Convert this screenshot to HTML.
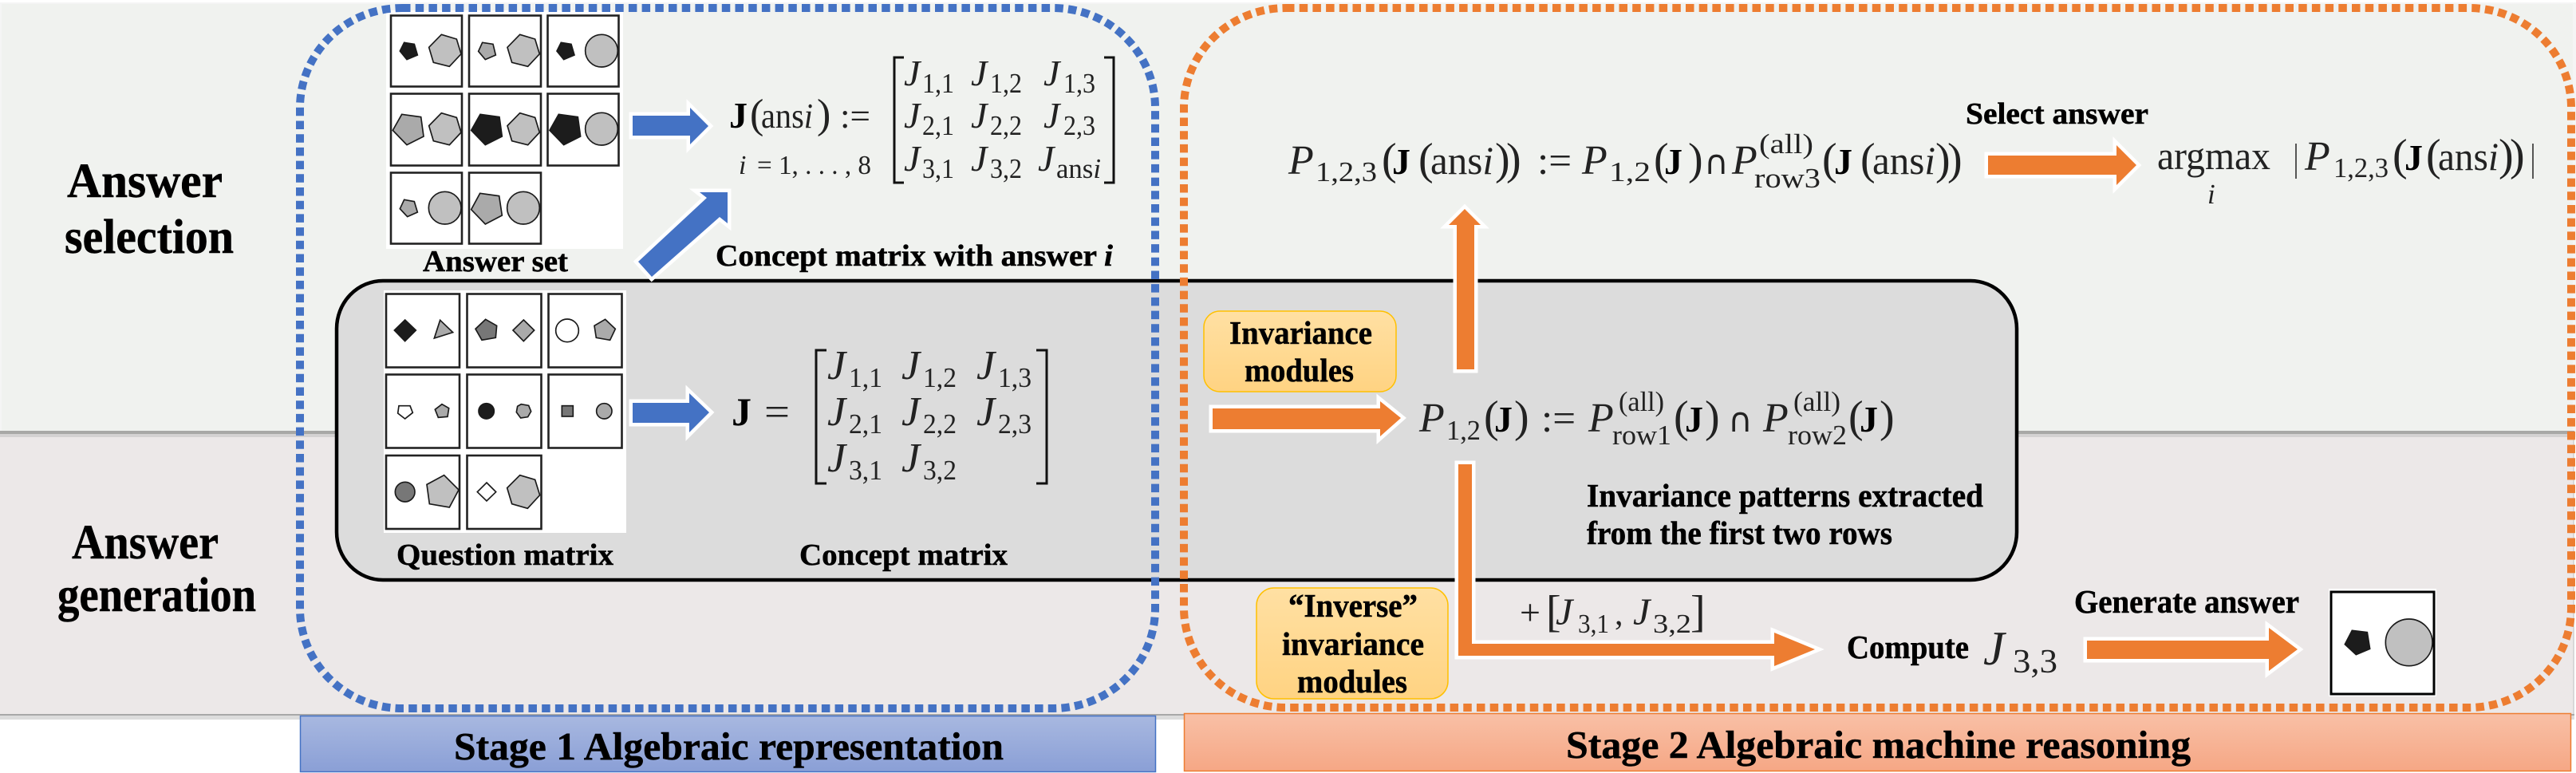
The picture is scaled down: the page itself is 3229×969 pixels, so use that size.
<!DOCTYPE html>
<html><head><meta charset="utf-8">
<style>
html,body{margin:0;padding:0;background:#fff}
svg{display:block}
text{font-family:"Liberation Serif",serif;fill:#000}
.b{font-weight:bold;stroke:#000;stroke-width:.5}
.i{font-style:italic}
.a{paint-order:stroke;stroke:#fff;stroke-width:9;stroke-linejoin:miter;stroke-miterlimit:12}
.bl{fill:#4472c4}
.or{fill:#ed7d31}
.c{fill:#fff;stroke:#222;stroke-width:2.6}
.s polygon,.s circle,.s rect{stroke:#1a1a1a;stroke-width:5}
.d{fill:#1c1c1c}.m{fill:#777}.h{fill:#aaa}.l{fill:#c0c0c0}.w{fill:#fff}
.p{font-size:56px;fill:#222}
.n{font-size:50px;fill:#222}
.j{font-size:50px;font-weight:bold}
.q{font-size:52px;font-style:italic;fill:#222}
.t{font-size:35px;fill:#222}
.u{font-size:38px;font-weight:bold;stroke:#000;stroke-width:.5}
.v{font-size:41px;font-weight:bold;stroke:#000;stroke-width:.5}
.cap{font-family:"DejaVu Sans",sans-serif;font-size:42px;fill:#222}
</style></head>
<body>
<svg width="3229" height="969" viewBox="0 0 3229 969" xmlns="http://www.w3.org/2000/svg">
<defs>
<linearGradient id="y" x1="0" y1="0" x2="0" y2="1"><stop offset="0" stop-color="#ffe0a3"/><stop offset="1" stop-color="#ffd382"/></linearGradient>
<linearGradient id="s1" x1="0" y1="0" x2="0" y2="1"><stop offset="0" stop-color="#a8b8e0"/><stop offset="1" stop-color="#8a9fd6"/></linearGradient>
<linearGradient id="s2" x1="0" y1="0" x2="0" y2="1"><stop offset="0" stop-color="#f8c0a6"/><stop offset="1" stop-color="#f6a785"/></linearGradient>
</defs>

<!-- bands -->
<rect x="0" y="3" width="3229" height="545" fill="#f5f5f5"/>
<rect x="2" y="5" width="3223" height="535" fill="#f0f2ef"/>
<rect x="0" y="540" width="3227" height="4" fill="#a8a8a6"/>
<rect x="0" y="544" width="3227" height="4" fill="#d4d2d2"/>
<rect x="0" y="548" width="3225" height="347" fill="#ece8e8"/>
<rect x="3225" y="548" width="2" height="347" fill="#d8d8d8"/>
<rect x="0" y="895" width="3227" height="2" fill="#a8a8a8"/>
<rect x="0" y="897" width="3227" height="5" fill="#dcdcdc"/>

<!-- stage boxes -->
<rect x="376.5" y="897.5" width="1072" height="70" fill="url(#s1)" stroke="#4472c4" stroke-width="1.5"/>
<rect x="1484.5" y="894.5" width="1738" height="72" fill="url(#s2)" stroke="#ed7d31" stroke-width="1.5"/>
<text class="b" x="569" y="952" font-size="49" textLength="689" lengthAdjust="spacingAndGlyphs">Stage 1 Algebraic representation</text>
<text class="b" x="1963" y="950" font-size="49" textLength="783" lengthAdjust="spacingAndGlyphs">Stage 2 Algebraic machine reasoning</text>

<!-- black rounded box -->
<rect x="422" y="352" width="2106" height="375" rx="58" ry="60" fill="#dcdcdc" stroke="#000" stroke-width="4.5"/>

<!-- answer-set panel -->
<rect x="484" y="13" width="297" height="299" fill="#fff"/>
<g>
<rect class="c" x="490" y="19.5" width="89" height="89"/><rect class="c" x="588" y="19.5" width="90" height="89"/><rect class="c" x="686.5" y="19.5" width="89" height="89"/>
<rect class="c" x="490" y="117.5" width="89" height="90"/><rect class="c" x="588" y="117.5" width="90" height="90"/><rect class="c" x="686.5" y="117.5" width="89" height="90"/>
<rect class="c" x="490" y="216.5" width="89" height="89"/><rect class="c" x="588" y="216.5" width="90" height="89"/>
</g>
<g class="s" transform="translate(460,0) scale(.33333)">
<polygon class="d" points="140,160 178,166 190,207 150,224 124,192"/>
<polygon class="l" points="280,130 337,147 354,203 310,250 250,235 233,178"/>
<polygon class="h" points="434,160 474,166 484,207 445,224 419,193"/>
<polygon class="l" points="575,130 632,147 649,203 605,250 545,235 528,178"/>
<polygon class="d" points="730,160 768,166 780,207 740,224 714,192"/>
<circle class="l" cx="882" cy="191" r="61"/>
<polygon class="h" points="131,430 203,440 213,513 150,545 97,490"/>
<polygon class="l" points="280,425 337,442 354,498 310,545 250,530 233,473"/>
<polygon class="d" points="426,430 498,440 508,513 445,545 392,490"/>
<polygon class="l" points="575,425 632,442 649,498 605,545 545,530 528,473"/>
<polygon class="d" points="721,430 793,440 803,513 740,545 687,490"/>
<circle class="l" cx="882" cy="485" r="61"/>
<polygon class="h" points="140,751 178,758 190,798 152,815 124,785"/>
<circle class="l" cx="293" cy="782" r="61"/>
<polygon class="h" points="425,727 497,737 508,810 445,843 392,788"/>
<circle class="l" cx="588" cy="782" r="61"/>
</g>

<!-- question panel -->
<rect x="481" y="364" width="304" height="304" fill="#fff"/>
<g>
<rect class="c" x="484" y="368.5" width="92" height="92"/><rect class="c" x="585.5" y="368.5" width="93" height="92"/><rect class="c" x="687.5" y="368.5" width="92" height="92"/>
<rect class="c" x="484" y="469.5" width="92" height="92"/><rect class="c" x="585.5" y="469.5" width="93" height="92"/><rect class="c" x="687.5" y="469.5" width="92" height="92"/>
<rect class="c" x="484" y="571" width="92" height="92"/><rect class="c" x="585.5" y="571" width="93" height="92"/>
</g>
<g class="s" transform="translate(460,360) scale(.33333)">
<polygon class="d" points="143,123 184,162 143,203 103,162"/>
<polygon class="h" points="275,124 323,170 253,192"/>
<polygon class="m" points="446,121 488,145 484,190 432,199 408,157"/>
<polygon class="h" points="589,123 629,162 589,203 549,162"/>
<circle class="w" cx="753" cy="163" r="43"/>
<polygon class="h" points="896,121 934,157 914,199 862,190 855,145"/>
<polygon class="w" points="120,446 162,446 172,472 143,495 116,474"/>
<polygon class="h" points="282,440 308,455 303,487 268,490 256,460"/>
<circle class="d" cx="449" cy="466" r="29"/>
<polygon class="h" points="580,440 608,445 617,467 605,488 578,492 562,470 566,448"/>
<rect class="m" x="733" y="446" width="42" height="40"/>
<circle class="h" cx="892" cy="466" r="29"/>
<circle class="m" cx="143" cy="770" r="37"/>
<polygon class="l" points="290,707 345,762 310,828 235,815 225,742"/>
<polygon class="w" points="450,735 485,770 450,804 415,770"/>
<polygon class="l" points="575,707 632,724 650,782 604,832 545,815 527,755"/>
</g>

<!-- dotted containers -->
<rect x="376" y="10" width="1072" height="878" rx="128" ry="125" fill="none" stroke="#4472c4" stroke-width="10" stroke-dasharray="10.5 6.2"/>
<rect x="1484" y="10" width="1739" height="877" rx="128" ry="125" fill="none" stroke="#ed7d31" stroke-width="10" stroke-dasharray="10.5 6.2"/>

<!-- blue arrows -->
<polygon class="a bl" points="793,145 865,145 865,135 888,158 865,181 865,170 793,170"/>
<polygon class="a bl" points="793,505 864,505 864,493 889,517 864,542 864,530 793,530"/>
<polygon class="a bl" points="800,328 886,248 877,241 912,241 912,280 902,272 817,347"/>

<!-- yellow boxes -->
<rect x="1509" y="390" width="241" height="101" rx="20" fill="url(#y)" stroke="#ffc000" stroke-width="1.5"/>
<rect x="1575" y="737" width="240" height="139" rx="22" fill="url(#y)" stroke="#ffc000" stroke-width="1.5"/>

<!-- orange arrows -->
<polygon class="a or" points="2492,195 2653,195 2653,182 2678,207 2653,232 2653,219 2492,219"/>
<polygon class="a or" points="1826,463 1826,282 1816,282 1836,262 1856,282 1848,282 1848,463"/>
<polygon class="a or" points="1520,512 1730,512 1730,503 1756,524 1730,547 1730,538 1520,538"/>
<polygon class="a or" points="1828,582 1845,582 1845,807 2224,807 2224,793 2275,814 2224,835 2224,822 1828,822"/>
<polygon class="a or" points="2616,803 2844,803 2844,787 2880,814 2844,841 2844,826 2616,826"/>

<!-- output cell -->
<rect x="2919" y="738" width="135" height="135" fill="#fff"/>
<rect x="2922" y="742" width="129" height="128" fill="#fff" stroke="#000" stroke-width="3"/>
<g class="s" transform="translate(2880,730) scale(.33333)">
<polygon class="d" points="205,181 262,188 272,250 220,272 178,233"/>
<circle class="l" cx="419" cy="226" r="88"/>
</g>

<!-- left labels -->
<text class="b" x="84" y="247" font-size="61" textLength="195" lengthAdjust="spacingAndGlyphs">Answer</text>
<text class="b" x="81" y="317" font-size="61" textLength="212" lengthAdjust="spacingAndGlyphs">selection</text>
<text class="b" x="90" y="700" font-size="61" textLength="184" lengthAdjust="spacingAndGlyphs">Answer</text>
<text class="b" x="72" y="766" font-size="61" textLength="249" lengthAdjust="spacingAndGlyphs">generation</text>

<!-- bold labels -->
<text class="u" x="530" y="340" textLength="182" lengthAdjust="spacingAndGlyphs">Answer set</text>
<text class="u" x="897" y="333" textLength="498" lengthAdjust="spacingAndGlyphs">Concept matrix with answer <tspan font-style="italic">i</tspan></text>
<text class="u" x="497" y="708" textLength="272" lengthAdjust="spacingAndGlyphs">Question matrix</text>
<text class="u" x="1002" y="708" textLength="261" lengthAdjust="spacingAndGlyphs">Concept matrix</text>
<text class="u" x="2464" y="155" textLength="229" lengthAdjust="spacingAndGlyphs">Select answer</text>
<text class="v" x="1541" y="431" textLength="179" lengthAdjust="spacingAndGlyphs">Invariance</text>
<text class="v" x="1560" y="478" textLength="137" lengthAdjust="spacingAndGlyphs">modules</text>
<text class="v" x="1615" y="773" textLength="162" lengthAdjust="spacingAndGlyphs">“Inverse”</text>
<text class="v" x="1607" y="821" textLength="178" lengthAdjust="spacingAndGlyphs">invariance</text>
<text class="v" x="1626" y="868" textLength="138" lengthAdjust="spacingAndGlyphs">modules</text>
<text class="v" x="1989" y="635" textLength="497" lengthAdjust="spacingAndGlyphs">Invariance patterns extracted</text>
<text class="v" x="1989" y="682" textLength="383" lengthAdjust="spacingAndGlyphs">from the first two rows</text>
<text class="v" x="2315" y="825" textLength="153" lengthAdjust="spacingAndGlyphs">Compute</text>
<text class="v" x="2600" y="768" textLength="282" lengthAdjust="spacingAndGlyphs">Generate answer</text>

<!-- J(ans i) definition -->
<text class="j" x="914" y="160" style="font-size:46px">J</text>
<text class="p" x="940" y="160" style="font-size:52px">(</text>
<text class="n" x="954" y="160" textLength="65" lengthAdjust="spacingAndGlyphs" style="font-size:44px">ans<tspan font-style="italic">i</tspan></text>
<text class="p" x="1024" y="160" style="font-size:52px">)</text>
<text class="n" x="1053" y="160" textLength="38" lengthAdjust="spacingAndGlyphs" style="font-size:44px">:=</text>
<text class="t" x="926" y="218" font-style="italic" style="font-size:34px">i</text>
<text class="t" x="949" y="218" textLength="143" lengthAdjust="spacingAndGlyphs" style="font-size:34px">= 1, . . . , 8</text>
<path d="M1133 72H1121V229H1133M1384 72H1396V229H1384" fill="none" stroke="#111" stroke-width="3"/>
<g>
<text class="q" x="1133" y="107" style="font-size:46px">J</text><text class="t" x="1156" y="116" textLength="40" lengthAdjust="spacingAndGlyphs">1,1</text>
<text class="q" x="1217" y="107" style="font-size:46px">J</text><text class="t" x="1241" y="116" textLength="40" lengthAdjust="spacingAndGlyphs">1,2</text>
<text class="q" x="1308" y="107" style="font-size:46px">J</text><text class="t" x="1333" y="116" textLength="40" lengthAdjust="spacingAndGlyphs">1,3</text>
<text class="q" x="1133" y="160" style="font-size:46px">J</text><text class="t" x="1156" y="169" textLength="40" lengthAdjust="spacingAndGlyphs">2,1</text>
<text class="q" x="1217" y="160" style="font-size:46px">J</text><text class="t" x="1241" y="169" textLength="40" lengthAdjust="spacingAndGlyphs">2,2</text>
<text class="q" x="1308" y="160" style="font-size:46px">J</text><text class="t" x="1333" y="169" textLength="40" lengthAdjust="spacingAndGlyphs">2,3</text>
<text class="q" x="1133" y="214" style="font-size:46px">J</text><text class="t" x="1156" y="223" textLength="40" lengthAdjust="spacingAndGlyphs">3,1</text>
<text class="q" x="1217" y="214" style="font-size:46px">J</text><text class="t" x="1241" y="223" textLength="40" lengthAdjust="spacingAndGlyphs">3,2</text>
<text class="q" x="1301" y="214" style="font-size:46px">J</text><text class="t" x="1324" y="223" textLength="56" lengthAdjust="spacingAndGlyphs">ans<tspan font-style="italic">i</tspan></text>
</g>

<!-- J = matrix -->
<text class="j" x="917" y="533">J</text>
<text class="n" x="958" y="533" textLength="32" lengthAdjust="spacingAndGlyphs">=</text>
<path d="M1036 439H1023V606H1036M1299 439H1312V606H1299" fill="none" stroke="#111" stroke-width="3"/>
<g>
<text class="q" x="1037" y="475">J</text><text class="t" x="1064" y="485" textLength="42" lengthAdjust="spacingAndGlyphs">1,1</text>
<text class="q" x="1130" y="475">J</text><text class="t" x="1157" y="485" textLength="42" lengthAdjust="spacingAndGlyphs">1,2</text>
<text class="q" x="1224" y="475">J</text><text class="t" x="1251" y="485" textLength="42" lengthAdjust="spacingAndGlyphs">1,3</text>
<text class="q" x="1037" y="533">J</text><text class="t" x="1064" y="543" textLength="42" lengthAdjust="spacingAndGlyphs">2,1</text>
<text class="q" x="1130" y="533">J</text><text class="t" x="1157" y="543" textLength="42" lengthAdjust="spacingAndGlyphs">2,2</text>
<text class="q" x="1224" y="533">J</text><text class="t" x="1251" y="543" textLength="42" lengthAdjust="spacingAndGlyphs">2,3</text>
<text class="q" x="1037" y="591">J</text><text class="t" x="1064" y="601" textLength="42" lengthAdjust="spacingAndGlyphs">3,1</text>
<text class="q" x="1130" y="591">J</text><text class="t" x="1157" y="601" textLength="42" lengthAdjust="spacingAndGlyphs">3,2</text>
</g>

<!-- P123 formula -->
<g>
<text class="q" x="1615" y="218">P</text><text class="t" x="1649" y="227" textLength="77" lengthAdjust="spacingAndGlyphs">1,2,3</text>
<text class="p" x="1732" y="218">(</text><text class="j" x="1745" y="218" style="font-size:46px">J</text><text class="p" x="1778" y="218">(</text>
<text class="n" x="1793" y="218" textLength="79" lengthAdjust="spacingAndGlyphs">ans<tspan font-style="italic">i</tspan></text>
<text class="p" x="1874" y="218">)</text><text class="p" x="1888" y="218">)</text>
<text class="n" x="1927" y="218" textLength="43" lengthAdjust="spacingAndGlyphs">:=</text>
<text class="q" x="1983" y="218">P</text><text class="t" x="2017" y="227" textLength="52" lengthAdjust="spacingAndGlyphs">1,2</text>
<text class="p" x="2073" y="218">(</text><text class="j" x="2086" y="218" style="font-size:46px">J</text><text class="p" x="2116" y="218">)</text>
<text class="cap" x="2136" y="218">∩</text>
<text class="q" x="2171" y="218">P</text>
<text class="t" x="2205" y="192" textLength="68" lengthAdjust="spacingAndGlyphs">(all)</text>
<text class="t" x="2199" y="235" textLength="83" lengthAdjust="spacingAndGlyphs">row3</text>
<text class="p" x="2284" y="218">(</text><text class="j" x="2299" y="218" style="font-size:46px">J</text><text class="p" x="2332" y="218">(</text>
<text class="n" x="2347" y="218" textLength="79" lengthAdjust="spacingAndGlyphs">ans<tspan font-style="italic">i</tspan></text>
<text class="p" x="2426" y="218">)</text><text class="p" x="2441" y="218">)</text>
</g>

<!-- argmax -->
<text class="n" x="2704" y="212" textLength="142" lengthAdjust="spacingAndGlyphs">argmax</text>
<text class="t" x="2767" y="255" font-style="italic">i</text>
<path d="M2878 180V224M3175 180V224" stroke="#222" stroke-width="1.5"/>
<text class="q" x="2889" y="213">P</text><text class="t" x="2925" y="222" textLength="69" lengthAdjust="spacingAndGlyphs">1,2,3</text>
<text class="p" x="2999" y="213">(</text><text class="j" x="3014" y="213" style="font-size:46px">J</text><text class="p" x="3041" y="213">(</text>
<text class="n" x="3056" y="213" textLength="76" lengthAdjust="spacingAndGlyphs">ans<tspan font-style="italic">i</tspan></text>
<text class="p" x="3132" y="213">)</text><text class="p" x="3146" y="213">)</text>

<!-- P12 formula -->
<g>
<text class="q" x="1779" y="541">P</text><text class="t" x="1813" y="551" textLength="43" lengthAdjust="spacingAndGlyphs">1,2</text>
<text class="p" x="1860" y="541">(</text><text class="j" x="1873" y="541" style="font-size:46px">J</text><text class="p" x="1898" y="541">)</text>
<text class="n" x="1932" y="541" textLength="43" lengthAdjust="spacingAndGlyphs">:=</text>
<text class="q" x="1991" y="541">P</text>
<text class="t" x="2029" y="515" textLength="57" lengthAdjust="spacingAndGlyphs">(all)</text>
<text class="t" x="2021" y="557" textLength="74" lengthAdjust="spacingAndGlyphs">row1</text>
<text class="p" x="2098" y="541">(</text><text class="j" x="2112" y="541" style="font-size:46px">J</text><text class="p" x="2137" y="541">)</text>
<text class="cap" x="2166" y="541">∩</text>
<text class="q" x="2210" y="541">P</text>
<text class="t" x="2248" y="515" textLength="59" lengthAdjust="spacingAndGlyphs">(all)</text>
<text class="t" x="2241" y="557" textLength="74" lengthAdjust="spacingAndGlyphs">row2</text>
<text class="p" x="2317" y="541">(</text><text class="j" x="2331" y="541" style="font-size:46px">J</text><text class="p" x="2356" y="541">)</text>
</g>

<!-- +[J31,J32] -->
<g>
<text class="n" x="1905" y="783" style="font-size:46px">+</text>
<text class="p" x="1938" y="785">[</text>
<text class="q" x="1950" y="783" style="font-size:48px">J</text><text class="t" x="1978" y="793" textLength="39" lengthAdjust="spacingAndGlyphs" style="font-size:34px">3,1</text>
<text class="n" x="2024" y="783" style="font-size:42px">,</text>
<text class="q" x="2047" y="783" style="font-size:48px">J</text><text class="t" x="2072" y="793" textLength="48" lengthAdjust="spacingAndGlyphs" style="font-size:34px">3,2</text>
<text class="p" x="2119" y="785">]</text>
</g>

<!-- J33 -->
<text class="q" x="2486" y="833" style="font-size:60px">J</text>
<text class="t" x="2523" y="843" textLength="56" lengthAdjust="spacingAndGlyphs" style="font-size:42px">3,3</text>
</svg>
</body></html>
